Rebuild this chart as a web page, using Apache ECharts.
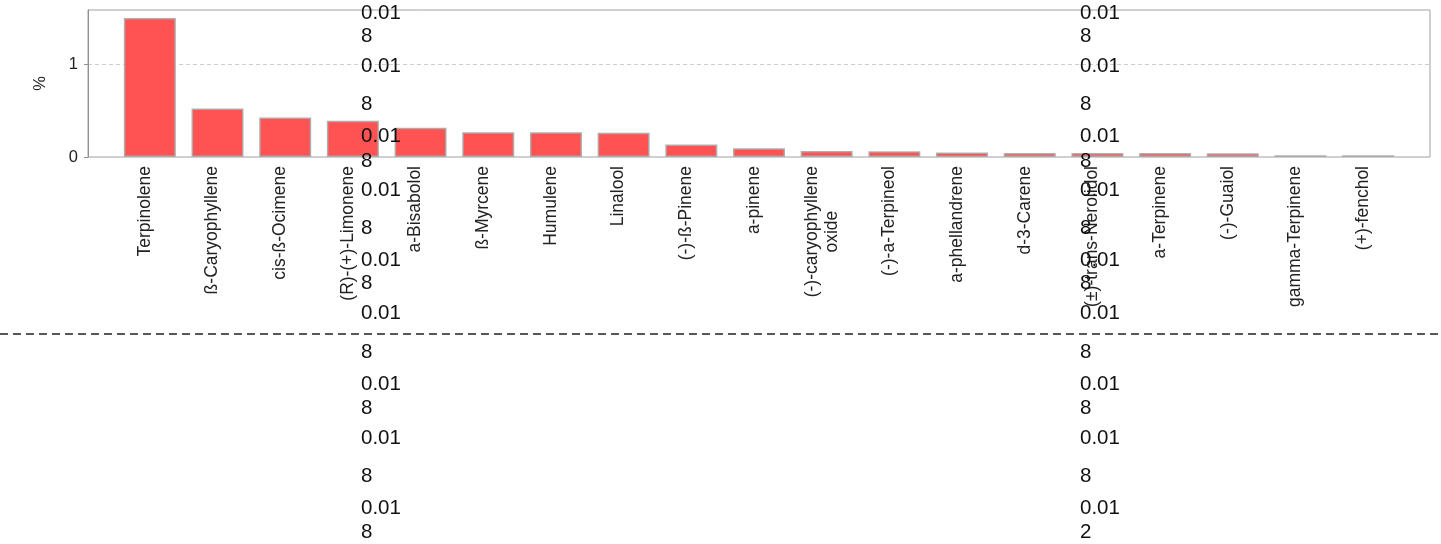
<!DOCTYPE html>
<html>
<head>
<meta charset="utf-8">
<script src="https://cdn.jsdelivr.net/npm/echarts@6/dist/echarts.min.js"></script>
<style>
  html, body { margin: 0; padding: 0; background: #ffffff; }
  #chart { width: 1441px; height: 544px; }
</style>
</head>
<body>
<div id="chart"></div>
<script>
const categories = [
  'Terpinolene', 'ß-Caryophyllene', 'cis-ß-Ocimene', '(R)-(+)-Limonene', 'a-Bisabolol',
  'ß-Myrcene', 'Humulene', 'Linalool', '(-)-ß-Pinene', 'a-pinene',
  '(-)-caryophyllene\noxide', '(-)-a-Terpineol', 'a-phellandrene', 'd-3-Carene',
  '(±)-trans-Nerolidol', 'a-Terpinene', '(-)-Guaiol', 'gamma-Terpinene', '(+)-fenchol'
];
const values = [
  1.495, 0.52, 0.425, 0.39, 0.315,
  0.265, 0.265, 0.26, 0.135, 0.095,
  0.064, 0.061, 0.048, 0.044,
  0.044, 0.044, 0.041, 0.02, 0.018
];
const yTicks = [0, 1];
const yAxisName = '%';
const leftColumnLines = ['0.01','8','0.01','8','0.01','8','0.01','8','0.01','8','0.01','8','0.01','8','0.01','8','0.01','8'];
const rightColumnLines = ['0.01','8','0.01','8','0.01','8','0.01','8','0.01','8','0.01','8','0.01','8','0.01','8','0.01','2'];

// layout (positions only)
const columnLineY = [13, 36, 66, 104, 136, 161, 190, 228, 260, 283, 313, 352, 384, 408, 438, 476, 508, 532];
const leftColumnX = 361;
const rightColumnX = 1080;

const FONT = '"Liberation Sans", Arial, sans-serif';

const graphics = [];
leftColumnLines.forEach((t, i) => {
  graphics.push({ type: 'text', z: 100, style: { text: t, x: leftColumnX, y: columnLineY[i], fill: '#111', font: '20.5px ' + FONT, textVerticalAlign: 'middle' } });
});
rightColumnLines.forEach((t, i) => {
  graphics.push({ type: 'text', z: 100, style: { text: t, x: rightColumnX, y: columnLineY[i], fill: '#111', font: '20.5px ' + FONT, textVerticalAlign: 'middle' } });
});
graphics.push({
  type: 'line', z: 100,
  shape: { x1: 0, y1: 334, x2: 1441, y2: 334 },
  style: { stroke: '#222', lineWidth: 1.3, lineDash: [8, 5] }
});

const chart = echarts.init(document.getElementById('chart'), null, { renderer: 'canvas' });
chart.setOption({
  animation: false,
  backgroundColor: '#ffffff',
  textStyle: { fontFamily: FONT },
  grid: [
    { left: 88, right: 11, top: 10, bottom: 387, show: true, borderColor: '#a0a0a0', borderWidth: 1, backgroundColor: 'transparent' },
    { left: 116, right: 39, top: 10, bottom: 387 }
  ],
  xAxis: [
    { gridIndex: 0, type: 'value', min: 0, max: 1, show: false },
    {
      gridIndex: 1, type: 'category', data: categories,
      axisLine: { show: false },
      axisTick: { show: false },
      axisLabel: {
        interval: 0, rotate: 90, margin: 9, color: '#222', fontSize: 17.5, fontFamily: FONT,
        padding: [0, 0, 10, 0],
        formatter: function (v) {
          const parts = v.split('\n');
          return parts.map(p => '{c|' + p + '}').join('\n');
        },
        rich: { c: { align: 'center', fontSize: 17.5, fontFamily: FONT, color: '#222', lineHeight: 20 } }
      }
    }
  ],
  yAxis: [
    {
      gridIndex: 0, type: 'value', min: 0, max: 1.58, interval: 1,
      name: yAxisName, nameLocation: 'middle', nameGap: 39,
      nameTextStyle: { fontSize: 16.5, color: '#222', fontFamily: FONT },
      axisLine: { show: true, lineStyle: { color: '#909090' } },
      axisTick: { show: true, length: 4, lineStyle: { color: '#909090' } },
      axisLabel: {
        showMaxLabel: false, color: '#222', fontSize: 16.5, margin: 10, fontFamily: FONT,
        formatter: v => (yTicks.indexOf(v) >= 0 ? String(v) : '')
      },
      splitLine: { show: true, lineStyle: { color: '#cfcfcf', type: [4, 3] } }
    },
    { gridIndex: 1, type: 'value', min: 0, max: 1.58, show: false, splitLine: { show: false } }
  ],
  series: [
    {
      type: 'bar', xAxisIndex: 1, yAxisIndex: 1, data: values, barWidth: 52,
      itemStyle: { color: '#ff5353', borderColor: 'rgba(170,170,170,0.9)', borderWidth: 1.5 }
    }
  ],
  graphic: graphics
});
</script>
</body>
</html>
